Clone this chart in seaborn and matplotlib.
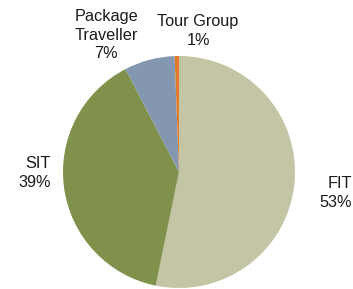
import matplotlib
matplotlib.use("Agg")
import matplotlib.pyplot as plt
import seaborn as sns

# data
categorias = ["FIT", "SIT", "Package\nTraveller", "Tour Group"]
porcentajes = [53, 39, 7, 0.6]
colores = ["#C4C5A5", "#7F914B", "#8497B0", "#E07B2A"]

# label anchors in pixels (x from left, y from top) and horizontal alignment
pos_etiquetas = [(352, 193), (51, 173), (106, 35), (198, 31)]
alineacion = ["right", "right", "center", "center"]

sns.set_style("white")
plt.rcParams['font.family'] = ['Liberation Sans', 'DejaVu Sans']

W, H = 353, 289
fig = plt.figure(figsize=(W / 100, H / 100), dpi=100)
ax = fig.add_axes([0, 0, 1, 1])

ax.pie(
    porcentajes,
    colors=colores,
    startangle=90,
    counterclock=False,
    center=(179, H - 172),
    radius=116,
    wedgeprops=dict(linewidth=0),
)

for cat, val, (px, py), al in zip(categorias, porcentajes, pos_etiquetas, alineacion):
    ax.text(px, H - py, f"{cat}\n{round(val)}%", ha=al, va="center",
            multialignment="center" if al == "center" else "right",
            fontsize=11.7, color="#1a1a1a", linespacing=1.3, clip_on=False)

ax.set_xlim(0, W)
ax.set_ylim(0, H)
ax.set_aspect("equal")
ax.axis("off")

fig.savefig("out.png", dpi=100)
